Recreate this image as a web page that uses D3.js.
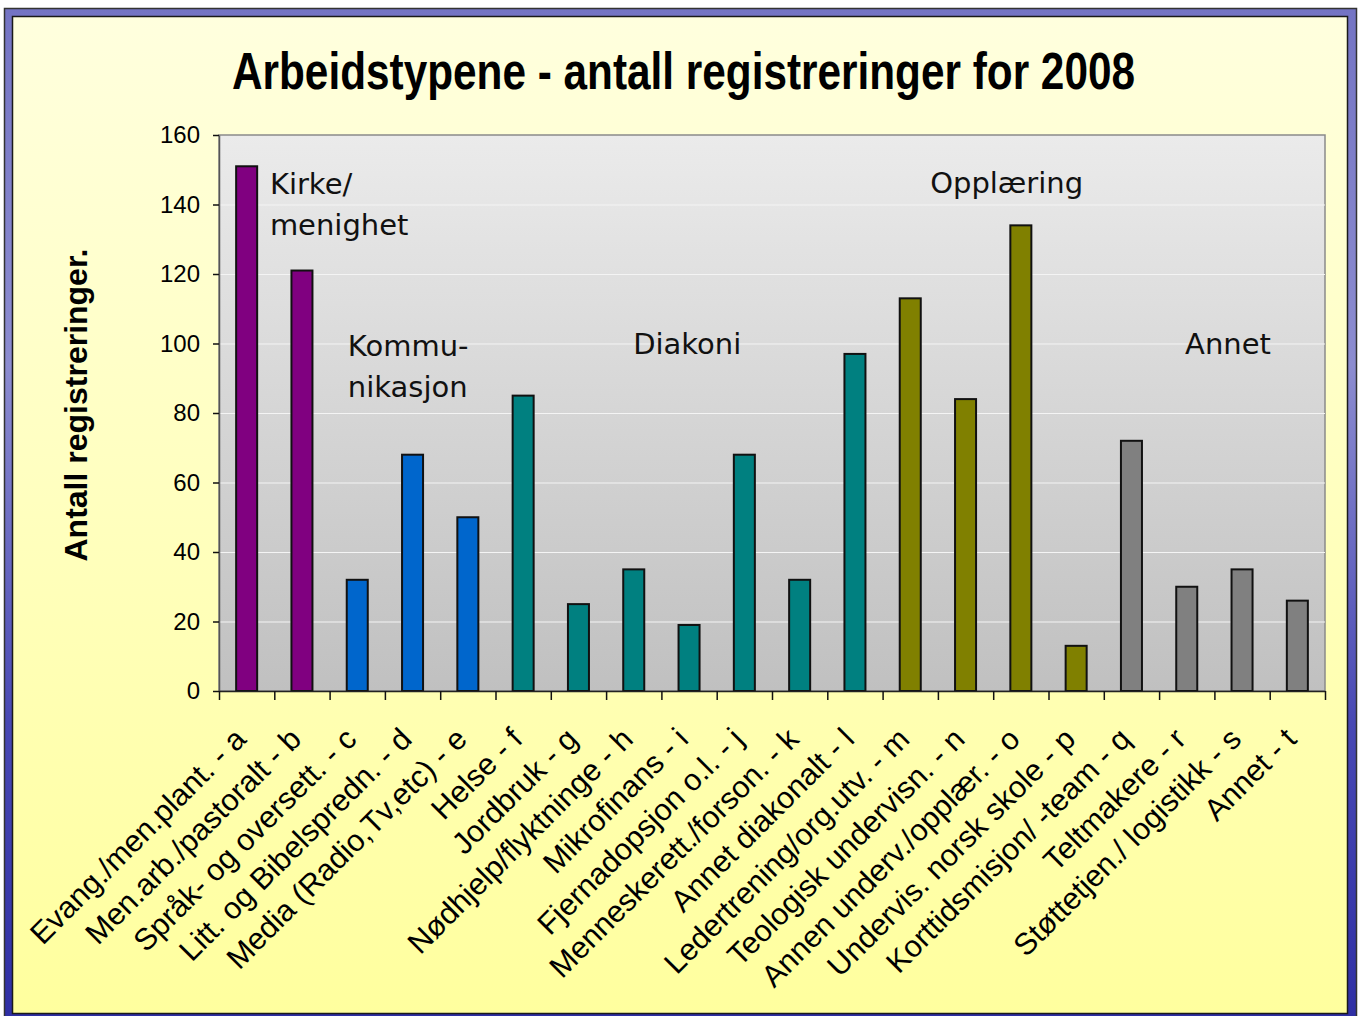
<!DOCTYPE html>
<html>
<head>
<meta charset="utf-8">
<script src="https://cdn.jsdelivr.net/npm/d3@7"></script>
<style>
  html, body { margin: 0; padding: 0; background: #fff; }
  svg { display: block; }
</style>
</head>
<body>
<div id="viz"></div>
<script>
const W = 1359, H = 1016;

// data
const codes = ["a","b","c","d","e","f","g","h","i","j","k","l","m","n","o","p","q","r","s","t"];
const labels = [
  "Evang./men.plant. - a", "Men.arb./pastoralt - b", "Språk- og oversett. - c",
  "Litt. og Bibelspredn. - d", "Media (Radio,Tv,etc) - e", "Helse - f", "Jordbruk - g",
  "Nødhjelp/flyktninge - h", "Mikrofinans - i", "Fjernadopsjon o.l. - j",
  "Menneskerett./forson. - k", "Annet diakonalt - l", "Ledertrening/org.utv. - m",
  "Teologisk undervisn. - n", "Annen underv./opplær. - o", "Undervis. norsk skole - p",
  "Korttidsmisjon/ -team - q", "Teltmakere - r", "Støttetjen./ logistikk - s", "Annet - t"
];
const values = [151, 121, 32, 68, 50, 85, 25, 35, 19, 68, 32, 97, 113, 84, 134, 13, 72, 30, 35, 26];
const groups = ["kirke","kirke","komm","komm","komm","diak","diak","diak","diak","diak","diak","diak",
                "oppl","oppl","oppl","oppl","annet","annet","annet","annet"];
const groupColors = { kirke: "#800080", komm: "#0066CC", diak: "#008080", oppl: "#808000", annet: "#808080" };
const yTicks = [0, 20, 40, 60, 80, 100, 120, 140, 160];

// group captions: position in band units / value units
const captions = [
  { lines: ["Kirke/", "menighet"], u: 0.92, v: 143 },
  { lines: ["Kommu-", "nikasjon"], u: 2.33, v: 96.4 },
  { lines: ["Diakoni"], u: 7.49, v: 96.9 },
  { lines: ["Opplæring"], u: 12.86, v: 143.3 },
  { lines: ["Annet"], u: 17.47, v: 96.9 }
];

const plot = { left: 219, right: 1325, top: 135, bottom: 691 };

const svg = d3.select("#viz").append("svg")
  .attr("width", W).attr("height", H);

const defs = svg.append("defs");
const grad = (id, x2, y2, stops) => {
  const g = defs.append("linearGradient").attr("id", id)
    .attr("x1", 0).attr("y1", 0).attr("x2", x2).attr("y2", y2);
  stops.forEach(s => g.append("stop").attr("offset", s[0]).attr("stop-color", s[1]));
};
grad("frameGrad", 0, 1, [[0, "#7474C4"], [0.35, "#8C8CD0"], [0.7, "#4848B4"], [1, "#2E2EA4"]]);
grad("bgGrad", 0, 1, [[0, "#FFFFDE"], [1, "#FFFF9E"]]);
grad("plotGrad", 0, 1, [[0, "#EBEBEB"], [1, "#C0C0C0"]]);

// frame
svg.append("rect")
  .attr("x", 4.5).attr("y", 8.5).attr("width", 1352).attr("height", 1020)
  .attr("fill", "url(#frameGrad)").attr("stroke", "#333").attr("stroke-width", 1.5);
svg.append("rect")
  .attr("x", 12.5).attr("y", 16.5).attr("width", 1335).attr("height", 997)
  .attr("fill", "url(#bgGrad)").attr("stroke", "#1a1a1a").attr("stroke-width", 1.5);

// title
svg.append("text")
  .attr("x", 683.5).attr("y", 89)
  .attr("text-anchor", "middle")
  .attr("textLength", 903).attr("lengthAdjust", "spacingAndGlyphs")
  .style("font-family", "'Liberation Sans Narrow', 'Liberation Sans', Arial, sans-serif")
  .style("font-weight", "bold").style("font-size", "52px")
  .text("Arbeidstypene - antall registreringer for 2008");

// scales
const x = d3.scaleBand().domain(codes).range([plot.left, plot.right]).padding(0);
const xEdge = d3.scaleLinear().domain([0, codes.length]).range([plot.left, plot.right]);
const y = d3.scaleLinear().domain([0, 160]).range([plot.bottom, plot.top]);
const bw = x.bandwidth();
const barW = bw * 0.38;

// plot area
svg.append("rect")
  .attr("x", plot.left).attr("y", plot.top)
  .attr("width", plot.right - plot.left).attr("height", plot.bottom - plot.top)
  .attr("fill", "url(#plotGrad)").attr("stroke", "#8a8a8a").attr("stroke-width", 1.5);

svg.append("g")
  .selectAll("line")
  .data(yTicks.filter(d => d > 0 && d < 160))
  .join("line")
  .attr("x1", plot.left).attr("x2", plot.right)
  .attr("y1", d => y(d) + 0.5).attr("y2", d => y(d) + 0.5)
  .attr("stroke", "#F4F4F4").attr("stroke-width", 1);

// captions
captions.forEach(c => {
  const t = svg.append("text")
    .attr("x", xEdge(c.u)).attr("y", y(c.v))
    .style("font-family", "'DejaVu Sans', Verdana, sans-serif")
    .style("font-size", "29px").attr("fill", "#111");
  c.lines.forEach((l, i) => t.append("tspan").attr("x", xEdge(c.u)).attr("dy", i ? 41 : 0).text(l));
});

// bars
svg.append("g")
  .selectAll("rect")
  .data(codes.map((c, i) => ({ c, v: values[i], g: groups[i] })))
  .join("rect")
  .attr("x", d => x(d.c) + (bw - barW) / 2)
  .attr("y", d => y(d.v))
  .attr("width", barW)
  .attr("height", d => y(0) - y(d.v))
  .attr("fill", d => groupColors[d.g])
  .attr("stroke", "#111").attr("stroke-width", 2);

// axes
const yAxis = svg.append("g")
  .attr("transform", `translate(${plot.left},0)`)
  .call(d3.axisLeft(y).tickValues(yTicks).tickSize(6).tickPadding(13).tickSizeOuter(0));
yAxis.select(".domain").attr("stroke", "#555").attr("stroke-width", 1.5);
yAxis.selectAll(".tick line").attr("stroke", "#111").attr("stroke-width", 1.5);
yAxis.selectAll(".tick text")
  .style("font-family", "'Liberation Sans', Arial, sans-serif")
  .style("font-size", "24px").attr("fill", "#000");

const xAxis = svg.append("g")
  .attr("transform", `translate(0,${plot.bottom})`)
  .call(d3.axisBottom(xEdge).tickValues(d3.range(codes.length + 1)).tickFormat("").tickSize(9).tickSizeOuter(0));
xAxis.select(".domain").attr("stroke", "#222").attr("stroke-width", 1.5);
xAxis.selectAll(".tick line").attr("stroke", "#111").attr("stroke-width", 1.5);

svg.append("g")
  .selectAll("text")
  .data(codes.map((c, i) => ({ c, label: labels[i] })))
  .join("text")
  .attr("transform", d => `translate(${x(d.c) + bw / 2 + 1},741) rotate(-45)`)
  .attr("text-anchor", "end")
  .style("font-family", "'Liberation Sans', Arial, sans-serif")
  .style("font-size", "30.5px").attr("fill", "#000")
  .text(d => d.label);

// y title
svg.append("text")
  .attr("transform", "translate(87,405) rotate(-90)")
  .attr("text-anchor", "middle")
  .style("font-family", "'Liberation Sans', Arial, sans-serif")
  .style("font-weight", "bold").style("font-size", "32px")
  .text("Antall registreringer.");
</script>
</body>
</html>
